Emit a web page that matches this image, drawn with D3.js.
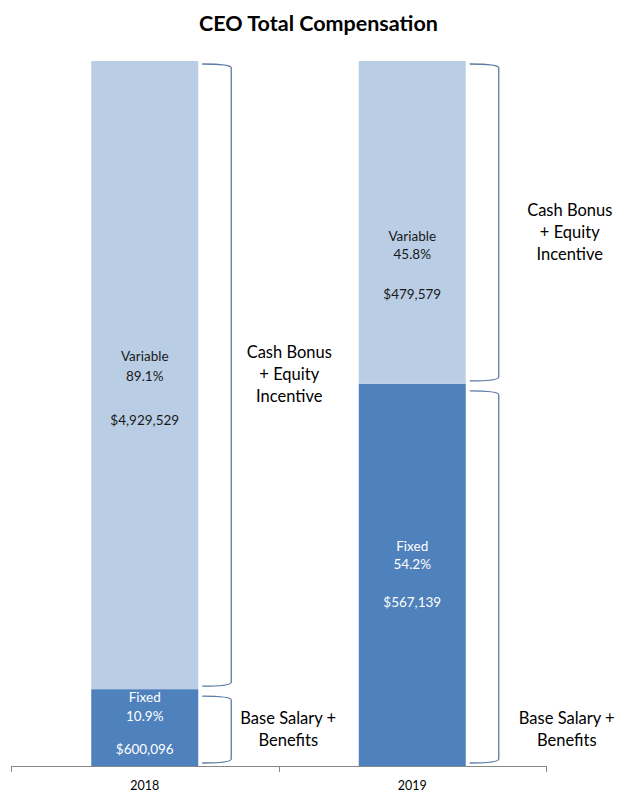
<!DOCTYPE html>
<html>
<head>
<meta charset="utf-8">
<script src="https://cdn.jsdelivr.net/npm/d3@7"></script>
<style>
  html, body { margin: 0; padding: 0; background: #fff; }
  svg { display: block; }
  text { font-family: Lato, "Open Sans", sans-serif; }
</style>
</head>
<body>
<svg id="chart" width="639" height="802"></svg>
<script>
// ---- data ----
const years = ["2018", "2019"];
const segments = ["Fixed", "Variable"];
const fixedPct = [10.9, 54.2];
const variablePct = [89.1, 45.8];
const fixedAmount = ["$600,096", "$567,139"];
const variableAmount = ["$4,929,529", "$479,579"];
const noteText = {
  Variable: ["Cash Bonus", "+ Equity", "Incentive"],
  Fixed: ["Base Salary +", "Benefits"]
};
const title = "CEO Total Compensation";

// ---- layout ----
const svg = d3.select("#chart");
const W = 639, H = 802;
const colors = { Fixed: "#4F81BD", Variable: "#B9CDE5" };
const braceColor = "#5A7BA3";

const x = d3.scaleBand().domain(years).range([11, 546]).paddingInner(0.6).paddingOuter(0.3);
const y = d3.scaleLinear().domain([0, 100]).range([766, 61]);

// build stacked table
const table = years.map((yr, i) => ({ year: yr, Fixed: fixedPct[i], Variable: variablePct[i],
  FixedAmt: fixedAmount[i], VariableAmt: variableAmount[i] }));
const stack = d3.stack().keys(segments)(table);

// title
svg.append("text").attr("x", 318.5).attr("y", 31).attr("text-anchor", "middle")
  .attr("font-size", 21.5).attr("font-weight", "bold").attr("fill", "#000").text(title);

// bars
const g = svg.append("g");
stack.forEach(layer => {
  g.selectAll(null).data(layer).enter().append("rect")
    .attr("x", d => x(d.data.year))
    .attr("width", x.bandwidth())
    .attr("y", d => y(d[1]))
    .attr("height", d => y(d[0]) - y(d[1]))
    .attr("fill", colors[layer.key]);
});

// per-segment label layout (pixel offsets relative to segment centre)
const labelLayout = {
  "2018": { Variable: { pct: 1, name: -19, amt: 45 }, Fixed: { pct: -11, name: -30, amt: 22 } },
  "2019": { Variable: { pct: 32, name: 14, amt: 72 }, Fixed: { pct: -11, name: -29, amt: 27 } }
};
const noteLayout = {
  "2018": { Variable: { dx: 91, cy: 374 }, Fixed: { dx: 90, cy: 729 } },
  "2019": { Variable: { dx: 104, cy: 232 }, Fixed: { dx: 101, cy: 729 } }
};

stack.forEach(layer => {
  const key = layer.key;
  layer.forEach(d => {
    const yr = d.data.year;
    const cx = x(yr) + x.bandwidth() / 2;
    const cy = (y(d[0]) + y(d[1])) / 2;
    const L = labelLayout[yr][key];
    const fill = key === "Fixed" ? "#fff" : "#1a1a1a";
    const lbl = g.append("g").attr("font-size", 13.5).attr("fill", fill).attr("text-anchor", "middle");
    lbl.append("text").attr("x", cx).attr("y", cy + L.name).attr("dy", "0.35em").text(key);
    lbl.append("text").attr("x", cx).attr("y", cy + L.pct).attr("dy", "0.35em").text(d.data[key].toFixed(1) + "%");
    lbl.append("text").attr("x", cx).attr("y", cy + L.amt).attr("dy", "0.35em").text(d.data[key + "Amt"]);

    // brace
    const right = x(yr) + x.bandwidth();
    const x0 = right + 4, x1 = right + 33;
    const yt = y(d[1]) + (key === "Fixed" ? 7 : 3);
    const yb = y(d[0]) - 3;
    const p = d3.path();
    p.moveTo(x0, yt);
    p.quadraticCurveTo(x1, yt, x1, yt + 4);
    p.lineTo(x1, yb - 4);
    p.quadraticCurveTo(x1, yb, x0, yb);
    g.append("path").attr("d", p.toString()).attr("fill", "none")
      .attr("stroke", braceColor).attr("stroke-width", 1.3);

    // note text
    const N = noteLayout[yr][key];
    const lines = noteText[key];
    const lh = 22;
    const nt = g.append("text").attr("font-size", 16.5).attr("fill", "#000").attr("text-anchor", "middle");
    lines.forEach((t, i) => {
      nt.append("tspan").attr("x", right + N.dx)
        .attr("y", N.cy + (i - (lines.length - 1) / 2) * lh).attr("dy", "0.35em").text(t);
    });
  });
});

// axis
const axisG = svg.append("g").attr("stroke", "#888").attr("stroke-width", 1);
const x0a = x.range()[0], x1a = x.range()[1];
axisG.append("line").attr("x1", x0a).attr("x2", x1a).attr("y1", y(0) + 0.5).attr("y2", y(0) + 0.5);
d3.range(years.length + 1).forEach(i => {
  const tx = Math.round(x0a + i * x.step()) + 0.5;
  axisG.append("line").attr("x1", tx).attr("x2", tx).attr("y1", y(0)).attr("y2", y(0) + 6);
});
svg.append("g").selectAll("text").data(years).enter().append("text")
  .attr("x", d => x(d) + x.bandwidth() / 2).attr("y", 786).attr("dy", "0.35em")
  .attr("text-anchor", "middle").attr("font-size", 12.5).attr("fill", "#000").text(d => d);
</script>
</body>
</html>
